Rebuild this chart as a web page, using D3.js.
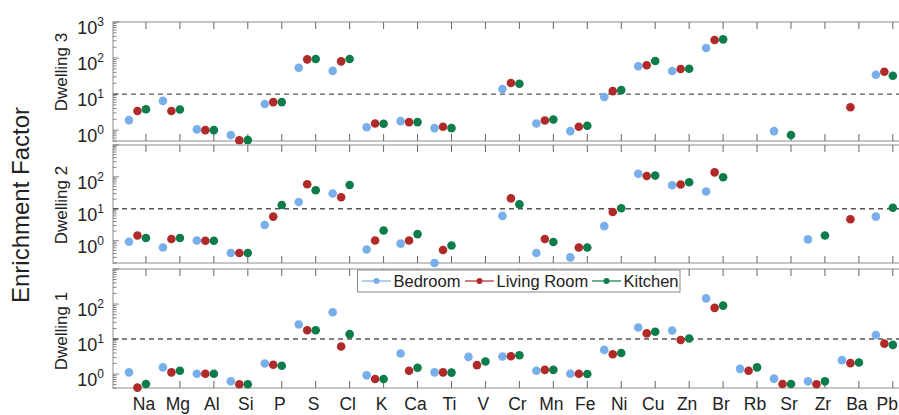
<!DOCTYPE html>
<html><head><meta charset="utf-8">
<script src="https://cdn.jsdelivr.net/npm/d3@7"></script>
<style>body{margin:0;background:#fff;}svg{display:block;font-family:Arial,"Liberation Sans",sans-serif;}</style>
</head><body>
<svg id="chart" width="899" height="415"></svg>
<script>
const elements = ["Na","Mg","Al","Si","P","S","Cl","K","Ca","Ti","V","Cr","Mn","Fe","Ni","Cu","Zn","Br","Rb","Sr","Zr","Ba","Pb"];
const seriesNames = ["Bedroom","Living Room","Kitchen"];
const seriesColors = ["#78aee9","#b02a2a","#0b7c4a"];
const panelNames = ["Dwelling 3","Dwelling 2","Dwelling 1"];
const yTickValues = [1, 10, 100, 1000];

const bedroom3 = [1.9, 6.5, 1.05, 0.73, 5.3, 54, 44, 1.2, 1.78, 1.14, null, 13.8, 1.53, 0.94, 8.3, 59, 43.5, 190, null, 0.94, null, null, 34.5];
const living3  = [3.4, 3.4, 1.0, 0.52, 6.0, 92, 81, 1.53, 1.67, 1.24, null, 20.3, 1.86, 1.24, 12.1, 63, 49.5, 316, null, null, null, 4.3, 41.7];
const kitchen3 = [3.8, 3.75, 1.0, 0.53, 6.0, 94, 94, 1.5, 1.67, 1.14, null, 19.3, 1.98, 1.32, 12.9, 83, 50.5, 330, null, 0.73, null, null, 32.3];

const bedroom2 = [0.93, 0.61, 1.02, 0.41, 3.1, 16.3, 30.3, 0.53, 0.81, 0.2, null, 6.0, 0.41, 0.30, 2.86, 126, 55, 35, null, null, 1.1, null, 5.7];
const living2  = [1.46, 1.13, 1.0, 0.41, 5.7, 59, 23.1, 1.02, 1.02, 0.51, null, 21.2, 1.13, 0.61, 7.9, 107, 58, 139, null, null, null, 4.7, null];
const kitchen2 = [1.21, 1.21, 1.0, 0.41, 13.1, 38, 56, 2.09, 1.61, 0.71, null, 13.8, 0.91, 0.61, 10.4, 110, 68, 97, null, null, 1.46, null, 10.8];

const bedroom1 = [1.12, 1.55, 1.02, 0.62, 2.0, 26, 58, 0.92, 3.86, 1.12, 3.1, 3.17, 1.24, 1.02, 4.9, 21.4, 17.6, 145, 1.41, 0.74, 0.62, 2.5, 13];
const living1  = [0.41, 1.12, 1.02, 0.51, 1.84, 17.8, 6.1, 0.72, 1.24, 1.12, 1.8, 3.23, 1.32, 1.02, 3.69, 14.5, 9.4, 77.6, 1.24, 0.52, 0.51, 2.05, 7.4];
const kitchen1 = [0.52, 1.24, 1.02, 0.51, 1.72, 17.8, 13.8, 0.72, 1.51, 1.1, 2.29, 3.45, 1.32, 1.0, 4.0, 16.2, 10.4, 90, 1.55, 0.52, 0.62, 2.14, 6.8];

const threshold = 10;

const panels = [
  {name: panelNames[0], data: [bedroom3, living3, kitchen3], top: 22, bottom: 141, ymin: 0.5, labelY: 72},
  {name: panelNames[1], data: [bedroom2, living2, kitchen2], top: 145, bottom: 263, ymin: 0.2, labelY: 205},
  {name: panelNames[2], data: [bedroom1, living1, kitchen1], top: 269, bottom: 388, ymin: 0.4, labelY: 331}
];
const offsets = [-0.5, -0.25, 0];

const svg = d3.select("#chart");
const left = 113, right = 930;
const x = d3.scaleLinear().domain([0, 24]).range([112, 926.8]);

const frameColor = "#b4b4b4", tickColor = "#666";

panels.forEach((p, pi) => {
  const y = d3.scaleLog().domain([p.ymin, 1000]).range([p.bottom, p.top]);
  const g = svg.append("g");
  g.append("rect").attr("x", left).attr("y", p.top).attr("width", right - left).attr("height", p.bottom - p.top)
    .attr("fill", "none").attr("stroke", frameColor).attr("stroke-width", 1.5);

  elements.forEach((e, i) => {
    const xi = x(i + 1);
    g.append("line").attr("x1", xi).attr("x2", xi).attr("y1", p.top).attr("y2", p.top + 7).attr("stroke", tickColor).attr("stroke-width", 1);
    g.append("line").attr("x1", xi).attr("x2", xi).attr("y1", p.bottom).attr("y2", p.bottom - 7).attr("stroke", tickColor).attr("stroke-width", 1);
  });

  const minor = [];
  for (let k = -1; k < 3; k++) for (let m = 1; m <= 9; m++) {
    const v = m * Math.pow(10, k);
    if (v >= p.ymin && v <= 1000) minor.push({v, major: m === 1});
  }
  minor.push({v: 1000, major: true});
  g.selectAll(null).data(minor).enter().append("line")
    .attr("x1", left).attr("x2", d => left + (d.major ? 6 : 3.5))
    .attr("y1", d => y(d.v)).attr("y2", d => y(d.v))
    .attr("stroke", tickColor).attr("stroke-width", 0.8);

  const labs = yTickValues.filter(v => pi === 0 || v < 1000);
  labs.forEach(v => {
    const t = g.append("text").attr("x", 104).attr("y", y(v) + 12).attr("text-anchor", "end")
      .attr("font-size", 18).attr("fill", "#222");
    t.append("tspan").text("10");
    t.append("tspan").attr("font-size", 12).attr("dy", -8).text(Math.round(Math.log10(v)));
  });

  g.append("text").attr("transform", `translate(67,${p.labelY}) rotate(-90)`).attr("text-anchor", "middle")
    .attr("font-size", 17).attr("fill", "#222").text(p.name);

  g.append("line").attr("x1", left).attr("x2", right).attr("y1", y(threshold)).attr("y2", y(threshold))
    .attr("stroke", "#555").attr("stroke-width", 1.4).attr("stroke-dasharray", "5,4");

  p.data.forEach((arr, si) => {
    g.selectAll(null).data(arr.map((v, i) => ({v, i})).filter(d => d.v != null)).enter().append("circle")
      .attr("cx", d => x(d.i + 1 + offsets[si])).attr("cy", d => y(d.v)).attr("r", 4.3)
      .attr("fill", seriesColors[si]);
  });
});

const last = elements.length - 1;
svg.selectAll(null).data(elements).enter().append("text")
  .attr("x", (d, i) => i === last ? 898 : x(i + 1) - 2).attr("y", 410)
  .attr("text-anchor", (d, i) => i === last ? "end" : "middle")
  .attr("font-size", 17.5).attr("fill", "#222").text(d => d);

svg.append("text").attr("transform", "translate(29,205) rotate(-90)").attr("text-anchor", "middle")
  .attr("font-size", 24).attr("fill", "#222").text("Enrichment Factor");

const lg = svg.append("g");
lg.append("rect").attr("x", 357.5).attr("y", 270).attr("width", 322.5).attr("height", 22)
  .attr("fill", "#fff").attr("stroke", "#888").attr("stroke-width", 1);
const legX = [362, 465, 592];
seriesNames.forEach((s, i) => {
  lg.append("line").attr("x1", legX[i]).attr("x2", legX[i] + 29).attr("y1", 281).attr("y2", 281)
    .attr("stroke", seriesColors[i]).attr("stroke-width", 1.2);
  lg.append("circle").attr("cx", legX[i] + 14.5).attr("cy", 281).attr("r", 3).attr("fill", seriesColors[i]);
  lg.append("text").attr("x", legX[i] + 31.5).attr("y", 287).attr("font-size", 16.5).attr("fill", "#222").text(s);
});
</script>
</body></html>
